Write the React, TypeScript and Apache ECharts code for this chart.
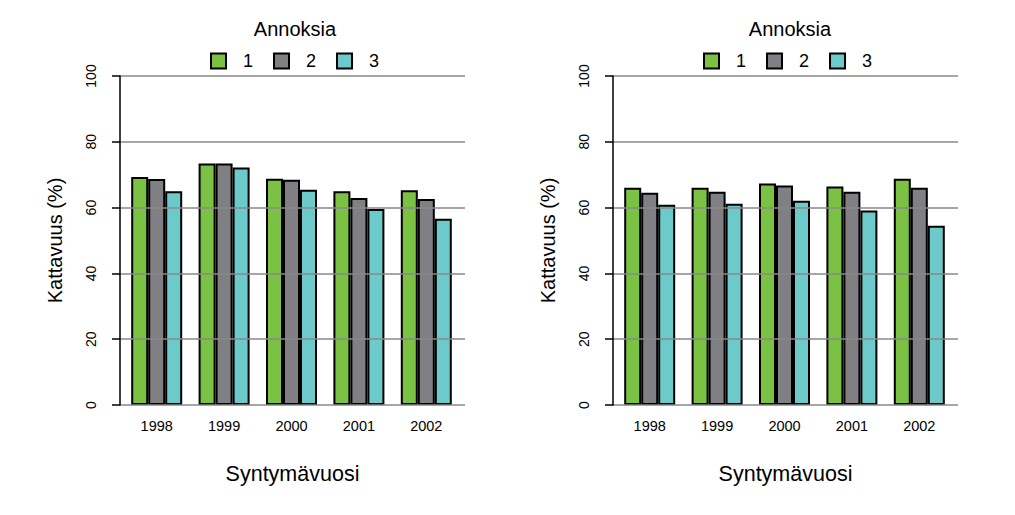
import React, { useEffect, useRef } from "react";
import * as echarts from "echarts";

const categories = ["1998", "1999", "2000", "2001", "2002"];
const seriesNames = ["1", "2", "3"];
const leftValues = [
  [69.3, 73.4, 68.8, 65.0, 65.3],
  [68.7, 73.4, 68.5, 62.9, 62.6],
  [65.0, 72.2, 65.4, 59.6, 56.6],
];
const rightValues = [
  [66.0, 66.0, 67.3, 66.4, 68.8],
  [64.5, 64.8, 66.7, 64.8, 66.0],
  [60.9, 61.2, 62.1, 59.1, 54.5],
];
const colors = ["#7BC143", "#808084", "#6CCBCA"];
const yTicks = [0, 20, 40, 60, 80, 100];

const FONT = "Liberation Sans, Arial, sans-serif";

export default function App() {
  const ref = useRef<HTMLDivElement>(null);
  useEffect(() => {
    if (!ref.current) return;
    const chart = echarts.init(ref.current, null, { renderer: "svg" });
    const panels = [
      { axLeft: 120, barLeft: 123, values: leftValues, center: 290, legendLeft: 205 },
      { axLeft: 613, barLeft: 616, values: rightValues, center: 785, legendLeft: 698 },
    ];
    const grids: any[] = [];
    const xAxes: any[] = [];
    const yAxes: any[] = [];
    const series: any[] = [];
    const titles: any[] = [];
    const legends: any[] = [];
    panels.forEach((p, pi) => {
      grids.push({ left: p.axLeft, top: 76, width: 345, height: 329 });
      grids.push({ left: p.barLeft, top: 76, width: 337, height: 329 });
      const gA = pi * 2;
      const gB = pi * 2 + 1;
      xAxes.push({
        gridIndex: gA,
        type: "category",
        data: categories,
        axisLine: { show: false },
        axisTick: { show: false },
        axisLabel: { show: false },
        name: "Syntymävuosi",
        nameLocation: "middle",
        nameGap: 58,
        nameTextStyle: { fontFamily: FONT, fontSize: 21.5, color: "#000" },
      });
      xAxes.push({
        gridIndex: gB,
        type: "category",
        data: categories,
        axisLine: { show: false },
        axisTick: { show: false },
        axisLabel: { fontFamily: FONT, fontSize: 14.5, color: "#000", margin: 13 },
      });
      yAxes.push({
        gridIndex: gA,
        type: "value",
        min: 0,
        max: 100,
        interval: 20,
        z: 5,
        axisLine: { show: true, lineStyle: { color: "#000", width: 1.5 } },
        axisTick: { show: true, length: 8, lineStyle: { color: "#000", width: 1.5 } },
        axisLabel: {
          rotate: 90,
          fontFamily: FONT,
          fontSize: 14,
          color: "#000",
          margin: 22,
          formatter: (v: number) => (yTicks.includes(v) ? String(v) : ""),
        },
        splitLine: { show: true, lineStyle: { color: "#888888", width: 1.5 } },
        name: "Kattavuus (%)",
        nameLocation: "middle",
        nameGap: 55,
        nameTextStyle: { fontFamily: FONT, fontSize: 20, color: "#000" },
      });
      yAxes.push({
        gridIndex: gB,
        type: "value",
        min: 0,
        max: 100,
        interval: 20,
        show: false,
        splitLine: { show: false },
      });
      p.values.forEach((vals, si) => {
        series.push({
          type: "bar",
          name: seriesNames[si],
          xAxisIndex: gB,
          yAxisIndex: gB,
          data: vals,
          barWidth: 17,
          barGap: "0%",
          z: 2,
          itemStyle: { color: colors[si], borderColor: "#000", borderWidth: 2 },
        });
      });
      titles.push({
        text: "Annoksia",
        left: p.center,
        textAlign: "center",
        top: 14,
        textStyle: { fontFamily: FONT, fontSize: 20, fontWeight: "normal", color: "#000" },
      });
      legends.push({
        left: p.legendLeft,
        top: 47,
        icon: "rect",
        itemWidth: 15,
        itemHeight: 15,
        itemGap: 20,
        data: seriesNames,
        itemStyle: { borderColor: "#000", borderWidth: 2 },
        textStyle: { fontFamily: FONT, fontSize: 18, color: "#000", padding: [0, 0, 0, 12] },
        selectedMode: false,
      });
    });
    chart.setOption({
      animation: false,
      backgroundColor: "#fff",
      color: colors,
      title: titles,
      legend: legends,
      grid: grids,
      xAxis: xAxes,
      yAxis: yAxes,
      series,
    });
    return () => chart.dispose();
  }, []);
  return (
    <div
      ref={ref}
      style={{ position: "absolute", left: 0, top: 0, width: 1015, height: 515 }}
    />
  );
}
